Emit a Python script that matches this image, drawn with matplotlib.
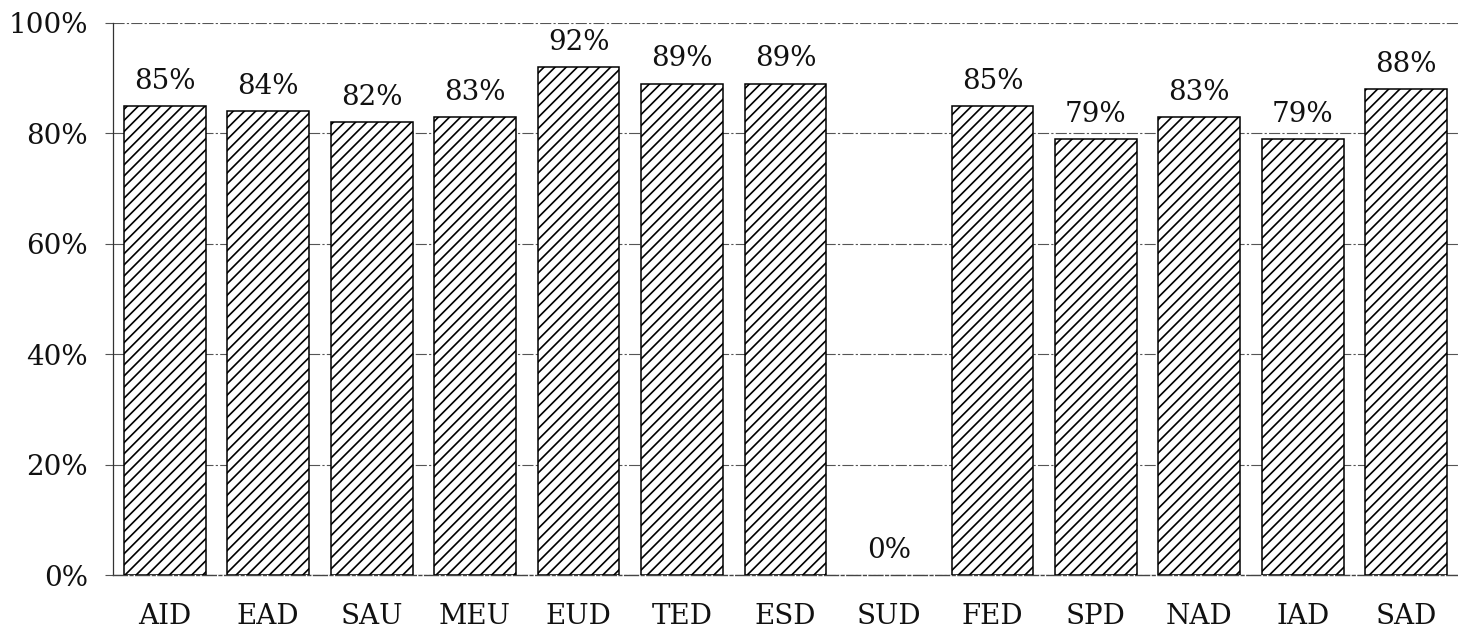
import numpy as np
import matplotlib.pyplot as plt

# datos
categorias = ["AID", "EAD", "SAU", "MEU", "EUD", "TED", "ESD",
              "SUD", "FED", "SPD", "NAD", "IAD", "SAD"]
valores = [85, 84, 82, 83, 92, 89, 89, 0, 85, 79, 83, 79, 88]
ticks_y = [0, 20, 40, 60, 80, 100]

plt.rcParams['font.family'] = ['DejaVu Serif']
plt.rcParams['hatch.linewidth'] = 1.2

fig = plt.figure(figsize=(14.58, 6.34), dpi=100)
ax = fig.add_axes([0.0775, 0.093, 0.9225, 0.871])

x = np.arange(len(categorias))
bordes = ['black' if v > 0 else 'none' for v in valores]
barras = ax.bar(x, valores, width=0.79, color='white', edgecolor=bordes,
                linewidth=1.1, hatch='///', zorder=3)

for xi, v in zip(x, valores):
    ax.annotate(f"{v}%", (xi, v), xytext=(0, 8), textcoords='offset points',
                ha='center', va='bottom', fontsize=20, color='#111111')

ax.set_xlim(-0.5, len(categorias) - 0.5)
ax.set_ylim(0, 100)
ax.set_yticks(ticks_y)
ax.set_yticklabels([f"{t}%" for t in ticks_y], fontsize=20, color='#111111')
ax.set_xticks(x)
ax.set_xticklabels(categorias, fontsize=20, color='#111111')
ax.tick_params(axis='x', length=0, pad=20)
ax.tick_params(axis='y', length=6, width=0.8, color='#555555', pad=12)

ax.grid(True, axis='y', color='#555555', linewidth=0.8,
        linestyle=(0, (10, 2, 2, 2)), zorder=0)
ax.set_axisbelow(True)

for lado in ['top', 'right']:
    ax.spines[lado].set_visible(False)
ax.spines['bottom'].set_color('#444444')
ax.spines['bottom'].set_linewidth(1.0)
ax.spines['bottom'].set_linestyle((0, (10, 2, 2, 2)))
ax.spines['left'].set_linewidth(0.9)
ax.spines['left'].set_color('#333333')

fig.savefig("out.png", dpi=100)
